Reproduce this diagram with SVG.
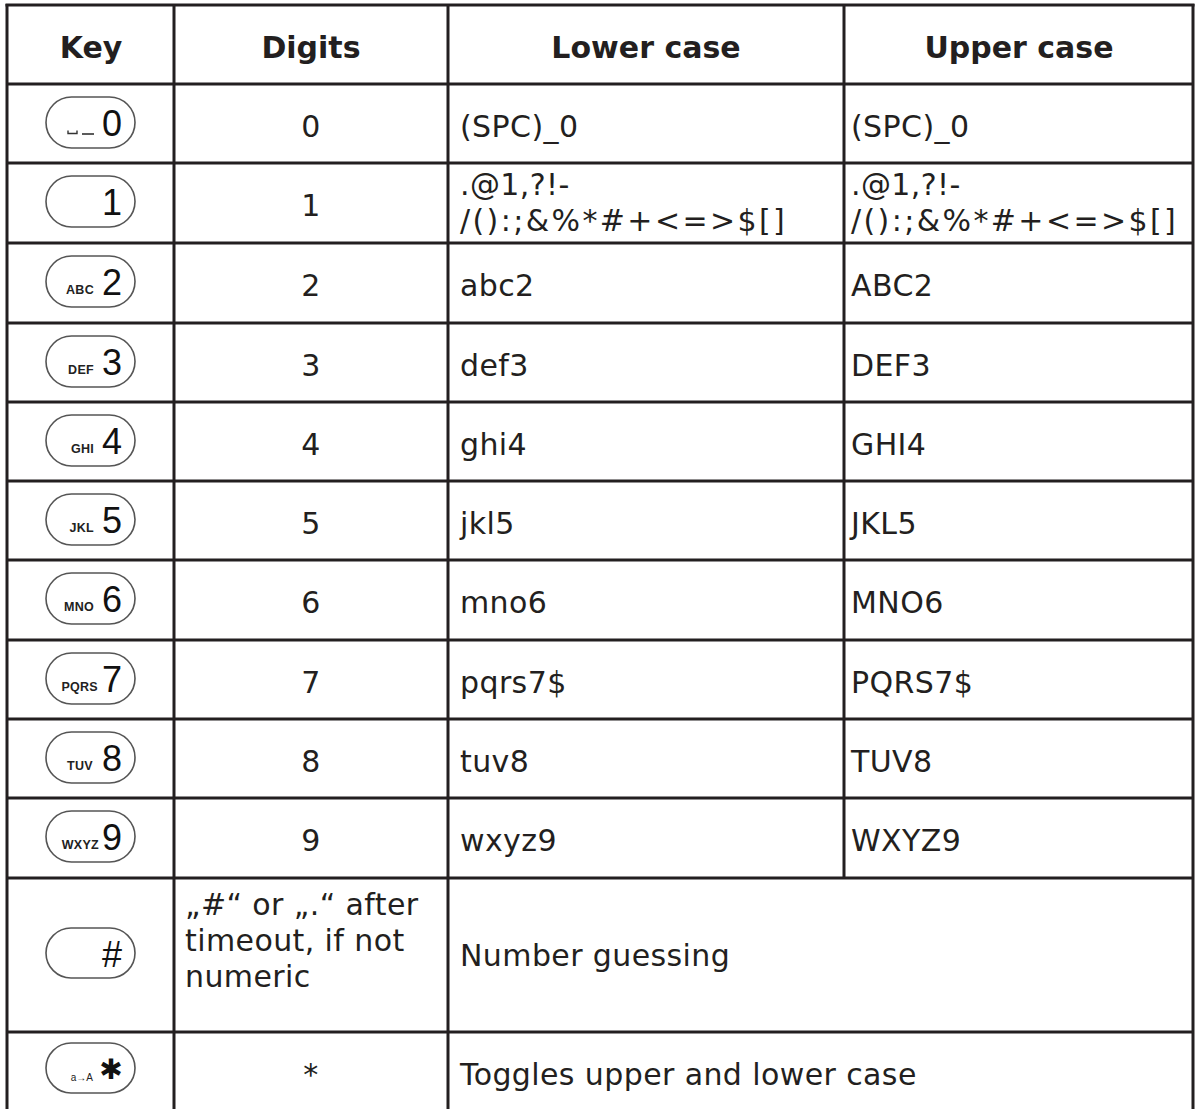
<svg xmlns="http://www.w3.org/2000/svg" width="1197" height="1109" viewBox="0 0 1197 1109">
<style>
.grid line{stroke:#231f20;stroke-width:3}
.hd{font-family:"DejaVu Sans","Verdana",sans-serif;font-weight:bold;font-size:30px;fill:#231f20;text-anchor:middle}
.tx{font-family:"DejaVu Sans","Verdana",sans-serif;font-size:30px;fill:#231f20;letter-spacing:0.4px}
.sym{letter-spacing:2.4px}
.c{text-anchor:middle}
.pill{fill:#fff;stroke:#555;stroke-width:1.6}
.kd{font-family:"Liberation Sans",Arial,sans-serif;font-size:36px;fill:#111;text-anchor:end}
.kl{font-family:"Liberation Sans",Arial,sans-serif;font-weight:bold;font-size:12.5px;fill:#222;text-anchor:end;letter-spacing:0.3px}
</style>
<rect width="1197" height="1109" fill="#fff"/>
<g id="connectors" class="grid">
<line x1="5.5" y1="5" x2="1194.5" y2="5"/>
<line x1="7" y1="4" x2="7" y2="1109"/>
<line x1="1193" y1="4" x2="1193" y2="1109"/>
<line x1="174" y1="4" x2="174" y2="1109"/>
<line x1="448" y1="4" x2="448" y2="1109"/>
<line x1="844" y1="4" x2="844" y2="878"/>
<line x1="7" y1="84" x2="1193" y2="84"/>
<line x1="7" y1="163" x2="1193" y2="163"/>
<line x1="7" y1="243" x2="1193" y2="243"/>
<line x1="7" y1="323" x2="1193" y2="323"/>
<line x1="7" y1="402" x2="1193" y2="402"/>
<line x1="7" y1="481" x2="1193" y2="481"/>
<line x1="7" y1="560" x2="1193" y2="560"/>
<line x1="7" y1="640" x2="1193" y2="640"/>
<line x1="7" y1="719" x2="1193" y2="719"/>
<line x1="7" y1="798" x2="1193" y2="798"/>
<line x1="7" y1="878" x2="1193" y2="878"/>
<line x1="7" y1="1032" x2="1193" y2="1032"/>
</g>
<g id="header">
<text class="hd" x="91" y="58">Key</text>
<text class="hd" x="311" y="58">Digits</text>
<text class="hd" x="646" y="58">Lower case</text>
<text class="hd" x="1019" y="58">Upper case</text>
</g>
<g id="row-0">
<rect class="pill" x="46" y="97" width="89" height="51" rx="25.5"/>
<path d="M68,130.5 v3 h9 v-3" fill="none" stroke="#333" stroke-width="1.4"/>
<path d="M82,134 h12" fill="none" stroke="#333" stroke-width="1.6"/>
<text class="kd" x="122" y="136">0</text>
<text class="tx c" x="311" y="137">0</text>
<text class="tx" x="460" y="137">(SPC)_0</text>
<text class="tx" x="851" y="137">(SPC)_0</text>
</g>
<g id="row-1">
<rect class="pill" x="46" y="176" width="89" height="51" rx="25.5"/>
<text class="kd" x="122" y="215">1</text>
<text class="tx c" x="311" y="216">1</text>
<text class="tx" x="460" y="195">.@1,?!-</text>
<text class="tx sym" x="460" y="231">/():;&amp;%*#+&lt;=&gt;$[]</text>
<text class="tx" x="851" y="195">.@1,?!-</text>
<text class="tx sym" x="851" y="231">/():;&amp;%*#+&lt;=&gt;$[]</text>
</g>
<g id="row-2">
<rect class="pill" x="46" y="256" width="89" height="51" rx="25.5"/>
<text class="kl" x="94" y="294">ABC</text>
<text class="kd" x="122" y="295">2</text>
<text class="tx c" x="311" y="296">2</text>
<text class="tx" x="460" y="296">abc2</text>
<text class="tx" x="851" y="296">ABC2</text>
</g>
<g id="row-3">
<rect class="pill" x="46" y="336" width="89" height="51" rx="25.5"/>
<text class="kl" x="94" y="374">DEF</text>
<text class="kd" x="122" y="375">3</text>
<text class="tx c" x="311" y="376">3</text>
<text class="tx" x="460" y="376">def3</text>
<text class="tx" x="851" y="376">DEF3</text>
</g>
<g id="row-4">
<rect class="pill" x="46" y="415" width="89" height="51" rx="25.5"/>
<text class="kl" x="94" y="453">GHI</text>
<text class="kd" x="122" y="454">4</text>
<text class="tx c" x="311" y="455">4</text>
<text class="tx" x="460" y="455">ghi4</text>
<text class="tx" x="851" y="455">GHI4</text>
</g>
<g id="row-5">
<rect class="pill" x="46" y="494" width="89" height="51" rx="25.5"/>
<text class="kl" x="94" y="532">JKL</text>
<text class="kd" x="122" y="533">5</text>
<text class="tx c" x="311" y="534">5</text>
<text class="tx" x="460" y="534">jkl5</text>
<text class="tx" x="851" y="534">JKL5</text>
</g>
<g id="row-6">
<rect class="pill" x="46" y="573" width="89" height="51" rx="25.5"/>
<text class="kl" x="94" y="611">MNO</text>
<text class="kd" x="122" y="612">6</text>
<text class="tx c" x="311" y="613">6</text>
<text class="tx" x="460" y="613">mno6</text>
<text class="tx" x="851" y="613">MNO6</text>
</g>
<g id="row-7">
<rect class="pill" x="46" y="653" width="89" height="51" rx="25.5"/>
<text class="kl" x="98" y="691">PQRS</text>
<text class="kd" x="122" y="692">7</text>
<text class="tx c" x="311" y="693">7</text>
<text class="tx" x="460" y="693">pqrs7$</text>
<text class="tx" x="851" y="693">PQRS7$</text>
</g>
<g id="row-8">
<rect class="pill" x="46" y="732" width="89" height="51" rx="25.5"/>
<text class="kl" x="93" y="770">TUV</text>
<text class="kd" x="122" y="771">8</text>
<text class="tx c" x="311" y="772">8</text>
<text class="tx" x="460" y="772">tuv8</text>
<text class="tx" x="851" y="772">TUV8</text>
</g>
<g id="row-9">
<rect class="pill" x="46" y="811" width="89" height="51" rx="25.5"/>
<text class="kl" x="99" y="849">WXYZ</text>
<text class="kd" x="122" y="850">9</text>
<text class="tx c" x="311" y="851">9</text>
<text class="tx" x="460" y="851">wxyz9</text>
<text class="tx" x="851" y="851">WXYZ9</text>
</g>
<g id="row-hash">
<rect class="pill" x="46" y="928" width="89" height="50" rx="25"/>
<text class="kd" x="122" y="967" font-size="31">#</text>
<text class="tx" x="185" y="915">„#“ or „.“ after</text>
<text class="tx" x="185" y="951">timeout, if not</text>
<text class="tx" x="185" y="987">numeric</text>
<text class="tx" x="460" y="966">Number guessing</text>
</g>
<g id="row-star">
<rect class="pill" x="46" y="1043" width="89" height="50" rx="25"/>
<text x="93" y="1081" font-family="Liberation Sans, Arial, sans-serif" font-size="10" fill="#222" text-anchor="end">a→A</text>
<text x="111" y="1079" font-family="DejaVu Sans, sans-serif" font-size="28" fill="#111" text-anchor="middle">✱</text>
<text class="tx c" x="311" y="1085">*</text>
<text class="tx" x="460" y="1085">Toggles upper and lower case</text>
</g>
</svg>
